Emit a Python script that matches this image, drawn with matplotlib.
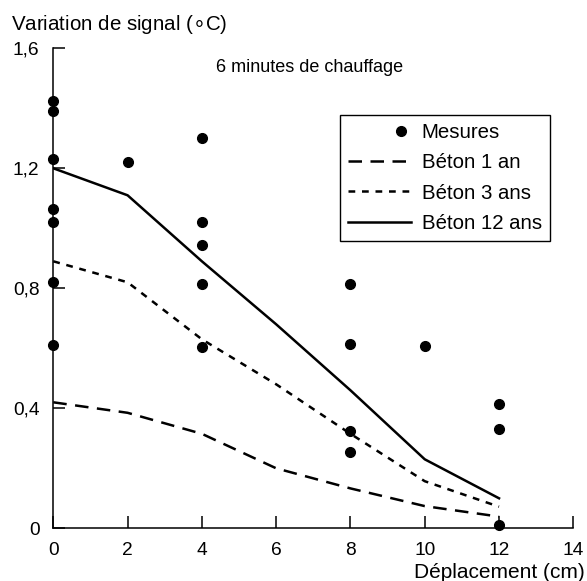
import matplotlib
matplotlib.use('Agg')
import matplotlib.pyplot as plt
from matplotlib.legend_handler import HandlerLine2D
from matplotlib.ticker import FixedLocator, FuncFormatter

plt.rcParams['font.family'] = ['Liberation Sans', 'DejaVu Sans']

# Measured points (x in cm, y in degC)
mesures_x = [0, 0, 0, 0, 0, 0, 0, 2, 4, 4, 4, 4, 4, 8, 8, 8, 8, 10, 12, 12, 12]
mesures_y = [1.425, 1.39, 1.23, 1.065, 1.02, 0.82, 0.61,
             1.22,
             1.30, 1.02, 0.945, 0.815, 0.605,
             0.815, 0.613, 0.325, 0.255,
             0.608,
             0.413, 0.331, 0.011]

# Model curves
depl = [0, 2, 4, 6, 8, 10, 12]
beton_1an = [0.42, 0.385, 0.315, 0.20, 0.133, 0.074, 0.039]
beton_3ans = [0.89, 0.82, 0.63, 0.48, 0.315, 0.157, 0.072]
beton_12ans = [1.20, 1.11, 0.89, 0.68, 0.46, 0.23, 0.10]

x_ticks = [0, 2, 4, 6, 8, 10, 12, 14]
y_ticks = [0, 0.4, 0.8, 1.2, 1.6]


class RightMarker(HandlerLine2D):
    # single legend dot near the right end of the handle
    def get_xdata(self, legend, xdescent, ydescent, width, height, fontsize):
        x = -xdescent + 0.84 * width
        return [x], [x]


fig = plt.figure(figsize=(5.87, 5.81), dpi=100)
ax = fig.add_axes([0.0908, 0.0907, 0.8859, 0.8262])

pts, = ax.plot(mesures_x, mesures_y, 'o', color='black', markersize=7.0,
               clip_on=False, label='Mesures', zorder=5)
ax.plot(depl, beton_1an, color='black', lw=1.8, linestyle=(0, (5.4, 3.4)),
        label='Béton 1 an')
ax.plot(depl, beton_3ans, color='black', lw=1.8, linestyle=(0, (2.7, 2.7)),
        label='Béton 3 ans')
ax.plot(depl, beton_12ans, color='black', lw=1.8, linestyle='-',
        label='Béton 12 ans')

ax.set_xlim(0, 14)
ax.set_ylim(0, 1.6)
for side in ['top', 'right']:
    ax.spines[side].set_visible(False)
for side in ['left', 'bottom']:
    ax.spines[side].set_linewidth(1.1)

ax.xaxis.set_major_locator(FixedLocator(x_ticks))
ax.yaxis.set_major_locator(FixedLocator(y_ticks))
ax.yaxis.set_major_formatter(FuncFormatter(
    lambda v, p: '0' if v == 0 else f'{v:.1f}'.replace('.', ',')))
ax.tick_params(direction='in', length=8.5, width=1.1, pad=10, labelsize=13.8)

ax.text(6.91, 1.535, '6 minutes de chauffage', ha='center', va='center',
        fontsize=13)

ax.legend(loc='upper right', bbox_to_anchor=(0.955, 0.861), borderaxespad=0,
          fancybox=False, edgecolor='black', framealpha=1, fontsize=14.7,
          handlelength=3.1, handletextpad=0.52, labelspacing=0.55,
          borderpad=0.4, numpoints=1,
          handler_map={pts: RightMarker(numpoints=2)})

fig.text(11 / 587, 1 - 25 / 581, 'Variation de signal ($\\circ$C)',
         ha='left', va='center', fontsize=14.8)
fig.text(585 / 587, 1 - 573 / 581, 'Déplacement (cm)', ha='right',
         va='center', fontsize=15)

fig.savefig('out.png', dpi=100)
